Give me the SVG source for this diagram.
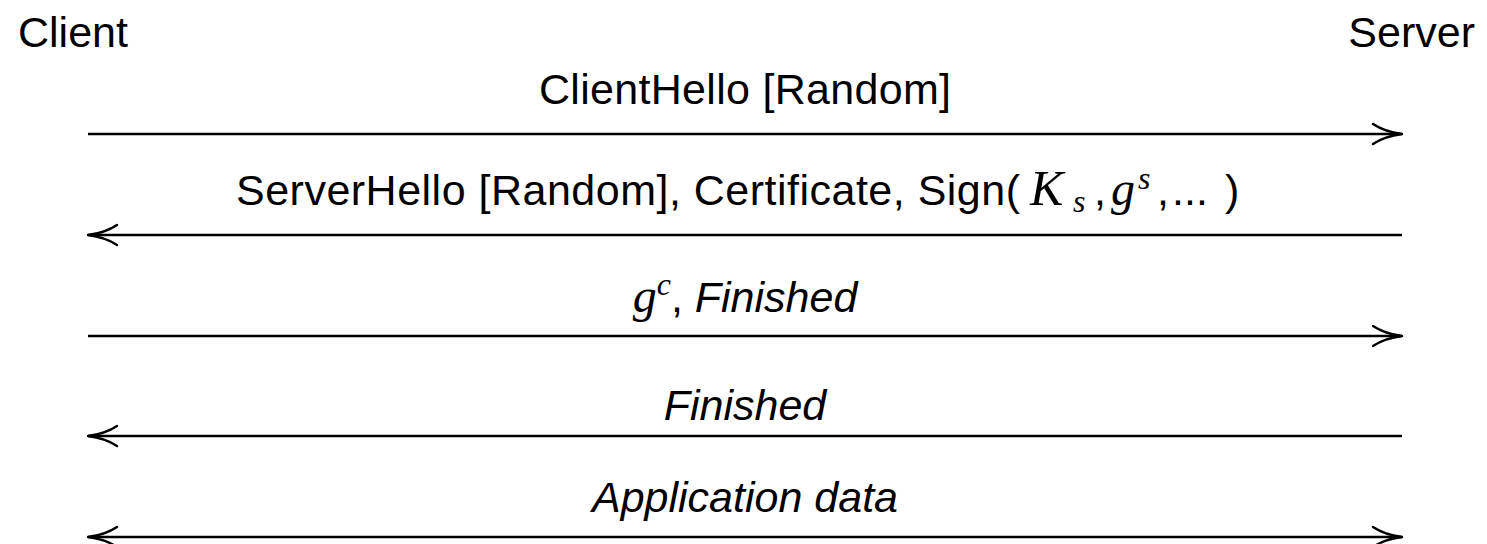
<svg xmlns="http://www.w3.org/2000/svg" width="1487" height="544" viewBox="0 0 1487 544">
  <style>
    text { font-family: "Liberation Sans", Arial, sans-serif; font-size: 43px; fill: #000; }
    .msg { text-anchor: middle; }
    .it { font-style: italic; }
    .math { font-family: "Liberation Serif", "Times New Roman", serif; font-style: italic; font-size: 48px; }
    .scr { font-family: "Liberation Serif", "Times New Roman", serif; font-style: italic; font-size: 32px; }
    .conn { stroke: #000; stroke-width: 2.5; fill: none; }
  </style>
  <defs>
    <!-- curved "to"-style arrowhead, tip at the origin -->
    <marker id="tip" markerUnits="userSpaceOnUse" viewBox="-32 -13 36 26" refX="0" refY="0" markerWidth="36" markerHeight="26" orient="auto-start-reverse" overflow="visible">
      <path d="M -29 -10 C -20 -4 -8 -1 0 0 C -8 1 -20 4 -29 10" fill="none" stroke="#000" stroke-width="2.4" stroke-linecap="round" stroke-linejoin="round"/>
    </marker>
  </defs>

  <g id="client"><text x="18" y="47">Client</text></g>
  <g id="server"><text x="1475" y="47" text-anchor="end">Server</text></g>

  <g id="connectors">
    <line class="conn" x1="88" y1="134" x2="1402" y2="134" marker-end="url(#tip)"/>
    <line class="conn" x1="1402" y1="235" x2="88" y2="235" marker-end="url(#tip)"/>
    <line class="conn" x1="88" y1="336" x2="1402" y2="336" marker-end="url(#tip)"/>
    <line class="conn" x1="1402" y1="436" x2="88" y2="436" marker-end="url(#tip)"/>
    <line class="conn" x1="88" y1="537" x2="1402" y2="537" marker-start="url(#tip)" marker-end="url(#tip)"/>
  </g>

  <g id="labels">
    <text class="msg" x="745" y="104" textLength="412">ClientHello [Random]</text>
    <text y="205"><tspan x="236" textLength="784">ServerHello [Random], Certificate, Sign(</tspan><tspan class="math" x="1030" style="font-size:50px">K</tspan><tspan class="scr" x="1073" y="212">s</tspan><tspan x="1094" y="205">,</tspan><tspan class="math" x="1111">g</tspan><tspan class="scr" x="1138" y="189">s</tspan><tspan x="1157" y="205">,</tspan><tspan x="1172">...</tspan><tspan x="1225">)</tspan></text>
    <text class="msg" x="745" y="312"><tspan class="math">g</tspan><tspan class="scr" dy="-17">c</tspan><tspan dy="17">, </tspan><tspan class="it">Finished</tspan></text>
    <text class="msg it" x="745" y="420">Finished</text>
    <text class="msg it" x="745" y="512">Application data</text>
  </g>
</svg>
